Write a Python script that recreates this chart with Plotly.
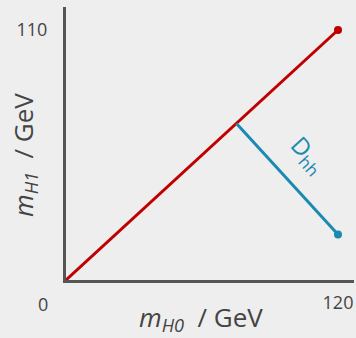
import plotly.graph_objects as go

# data
diag_x = [0, 120]
diag_y = [0, 110]
dist_x = [75.2, 120]
dist_y = [68.9, 20]
x_tick_vals = [120]
x_tick_text = ["120"]
y_tick_vals = [110]
y_tick_text = ["110"]
x_title = "<i>m</i><sub><i>H0</i></sub>  / GeV"
y_title = "<i>m</i><sub><i>H1</i></sub>  / GeV"
dist_label = "D<sub>hh</sub>"

RED = "#c00000"
BLUE = "#1a8ab2"
AX = "#555555"
TXT = "#444444"
FONT = "Open Sans"

fig = go.Figure()
fig.add_trace(go.Scatter(x=diag_x, y=diag_y, mode="lines", line=dict(color=RED, width=3),
                         hoverinfo="skip", cliponaxis=False))
fig.add_trace(go.Scatter(x=[diag_x[-1]], y=[diag_y[-1]], mode="markers",
                         marker=dict(color=RED, size=8), hoverinfo="skip", cliponaxis=False))
fig.add_trace(go.Scatter(x=dist_x, y=dist_y, mode="lines", line=dict(color=BLUE, width=3),
                         hoverinfo="skip", cliponaxis=False))
fig.add_trace(go.Scatter(x=[dist_x[-1]], y=[dist_y[-1]], mode="markers",
                         marker=dict(color=BLUE, size=8), hoverinfo="skip", cliponaxis=False))

L, R, T, B = 66, 2, 7, 58
xmax = (356 - R - L) / (272 / 120)
ymax = (338 - B - T) / (250 / 110)
PW = 356 - R - L
PH = 338 - B - T

fig.update_layout(
    width=356, height=338,
    margin=dict(l=L, r=R, t=T, b=B),
    paper_bgcolor="#eeeeee", plot_bgcolor="#eeeeee",
    showlegend=False,
    font=dict(family=FONT, color=TXT),
    xaxis=dict(range=[0, xmax], showgrid=False, zeroline=False, showline=True,
               linecolor=AX, linewidth=3, tickvals=x_tick_vals, ticktext=x_tick_text,
               ticks="", tickfont=dict(size=18, color=TXT), ticklabelstandoff=4),
    yaxis=dict(range=[0, ymax], showgrid=False, zeroline=False, showline=True,
               linecolor=AX, linewidth=3, tickvals=y_tick_vals, ticktext=y_tick_text,
               ticks="", tickfont=dict(size=18, color=TXT), ticklabelstandoff=12),
    annotations=[
        dict(x=0, y=0, xref="x", yref="y", text="0", showarrow=False,
             xanchor="center", yanchor="middle",
             xshift=-23, yshift=-24, font=dict(size=18, color=TXT)),
        dict(x=(201 - L) / PW, y=(280 - 318) / PH, xref="paper", yref="paper",
             xanchor="center", yanchor="middle",
             text=x_title, showarrow=False, font=dict(size=26, color=TXT)),
        dict(x=(24 - L) / PW, y=(280 - 155) / PH, xref="paper", yref="paper",
             xanchor="center", yanchor="middle",
             text=y_title, showarrow=False, textangle=-90, font=dict(size=26, color=TXT)),
        dict(x=(308 - L) / (272 / 120), y=(280 - 155) / (250 / 110), xref="x", yref="y",
             xanchor="center", yanchor="middle",
             text=dist_label, showarrow=False, textangle=47.7, font=dict(size=24, color=BLUE)),
    ],
)

fig.write_html("out.html", config={"displayModeBar": False},
               post_script="document.body.style.margin='0';document.body.style.overflow='hidden';")
